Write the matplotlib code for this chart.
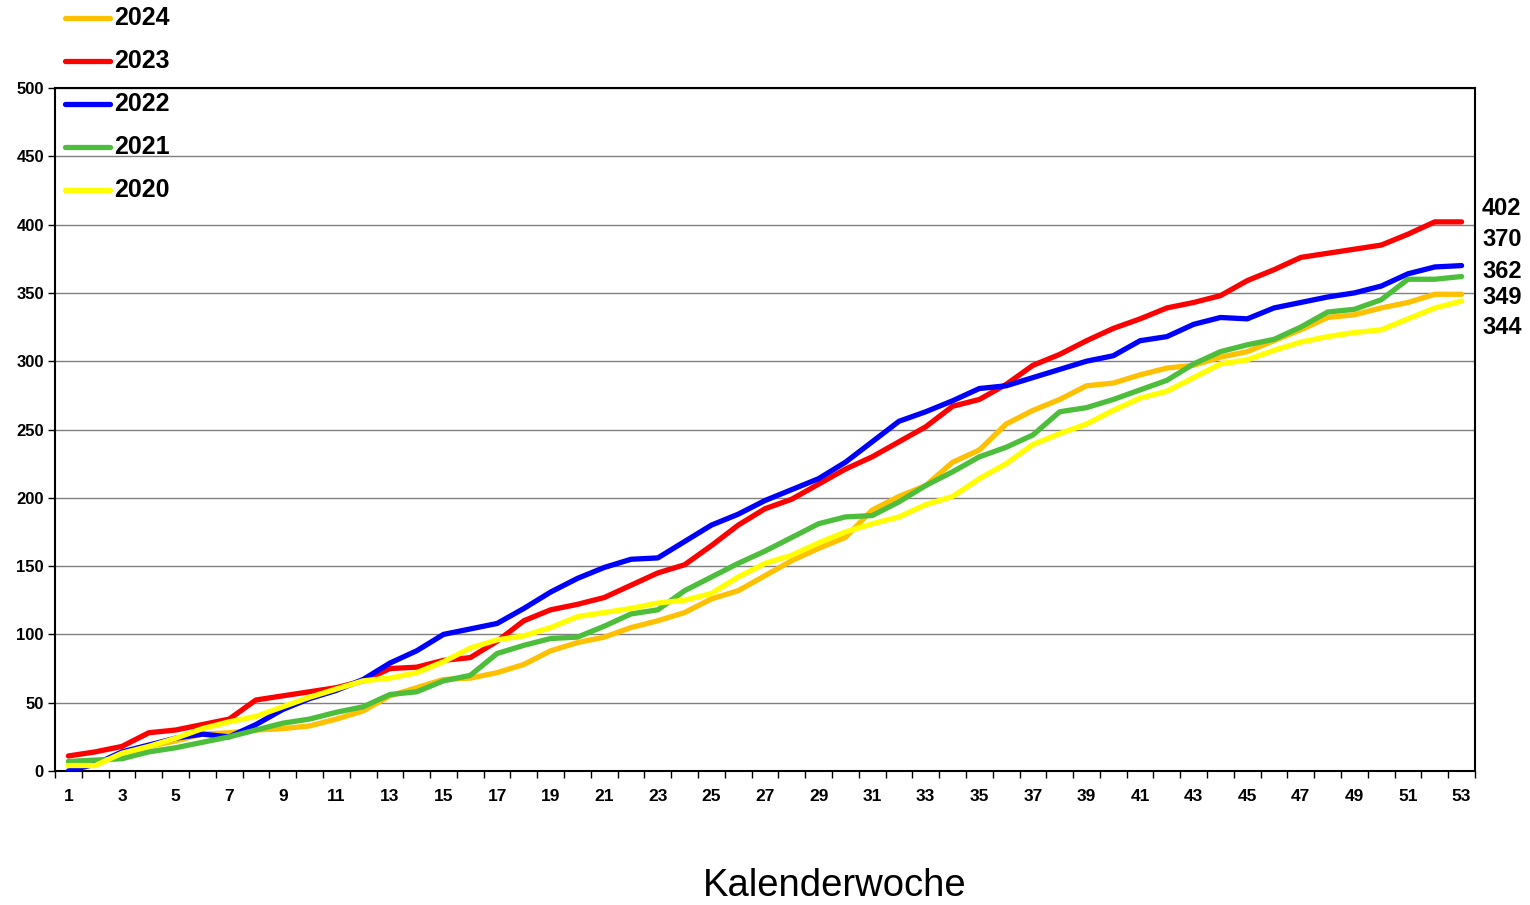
import matplotlib.pyplot as plt
from matplotlib.lines import Line2D

# cumulative counts per calendar week
weeks = list(range(1, 54))

y2024 = [4, 5, 13, 18, 22, 27, 28, 30, 31, 33,
         38, 44, 55, 61, 67, 68, 72, 78, 88, 94,
         98, 105, 110, 116, 126, 132, 143, 154, 163, 171,
         191, 201, 209, 226, 235, 254, 264, 272, 282, 284,
         290, 295, 297, 303, 307, 315, 323, 332, 334, 339,
         343, 349, 349]
y2023 = [11, 14, 18, 28, 30, 34, 38, 52, 55, 58,
         61, 66, 75, 76, 81, 83, 95, 110, 118, 122,
         127, 136, 145, 151, 165, 180, 192, 199, 210, 221,
         230, 241, 252, 267, 272, 283, 297, 305, 315, 324,
         331, 339, 343, 348, 359, 367, 376, 379, 382, 385,
         393, 402, 402]
y2022 = [0, 5, 14, 19, 24, 27, 25, 34, 45, 53,
         59, 67, 79, 88, 100, 104, 108, 119, 131, 141,
         149, 155, 156, 168, 180, 188, 198, 206, 214, 226,
         241, 256, 263, 271, 280, 282, 288, 294, 300, 304,
         315, 318, 327, 332, 331, 339, 343, 347, 350, 355,
         364, 369, 370]
y2021 = [7, 8, 9, 14, 17, 21, 25, 30, 35, 38,
         43, 47, 56, 58, 66, 70, 86, 92, 97, 98,
         106, 115, 118, 132, 142, 152, 161, 171, 181, 186,
         187, 197, 209, 219, 230, 237, 246, 263, 266, 272,
         279, 286, 298, 307, 312, 316, 325, 336, 338, 345,
         360, 360, 362]
y2020 = [4, 4, 13, 18, 24, 31, 36, 40, 47, 54,
         60, 66, 68, 72, 80, 90, 96, 99, 105, 113,
         116, 119, 123, 125, 130, 142, 152, 158, 167, 175,
         181, 186, 195, 201, 214, 225, 239, 247, 254, 264,
         273, 278, 288, 298, 301, 308, 314, 318, 321, 323,
         331, 339, 344]

years = ["2024", "2023", "2022", "2021", "2020"]
series = [y2024, y2023, y2022, y2021, y2020]
colors = ["#FFC000", "#FF0000", "#0000FF", "#4CBE3C", "#FFFF00"]

plt.rcParams["font.family"] = ["Liberation Sans", "DejaVu Sans"]

W, H = 1530, 905
fig = plt.figure(figsize=(W / 100, H / 100), dpi=100)
ax = fig.add_axes([55 / W, 1 - 771 / H, 1420 / W, 683 / H])

for vals, c in zip(series, colors):
    ax.plot(weeks, vals, color=c, lw=3.8, solid_capstyle="round",
            solid_joinstyle="round", zorder=3)

ax.set_xlim(0.5, 53.5)
ax.set_ylim(0, 500)
ax.set_yticks(range(0, 501, 50))
ax.set_xticks(range(1, 54, 2))
ax.set_xticks([w + 0.5 for w in range(0, 54)], minor=True)
ax.tick_params(axis="x", which="major", length=0, pad=13, labelsize=12.5)
ax.tick_params(axis="x", which="minor", length=5, width=1, direction="out")
ax.tick_params(axis="y", length=5, width=1, direction="out", labelsize=12, pad=3)
for lab in ax.get_xticklabels() + ax.get_yticklabels():
    lab.set_fontweight("bold")
ax.grid(axis="y", color="#808080", lw=1, zorder=0)
for sp in ax.spines.values():
    sp.set_color("black")
    sp.set_linewidth(1.5)

# legend drawn by hand, top left
for i, (yr, c) in enumerate(zip(years, colors)):
    yp = 1 - (18 + 43 * i) / H
    fig.add_artist(Line2D([65 / W, 110 / W], [yp, yp], color=c, lw=3.8,
                          solid_capstyle="round", transform=fig.transFigure))
    fig.text(114 / W, yp, yr, fontsize=18, fontweight="bold", va="center")

# final values at the right
label_order = [1, 2, 3, 0, 4]
label_y = [208, 240, 272, 297, 327]
for idx, yp in zip(label_order, label_y):
    fig.text(1482 / W, 1 - yp / H, str(series[idx][-1]), fontsize=17,
             fontweight="bold", va="center")

fig.text(835 / W, 1 - 886 / H, "Kalenderwoche", fontsize=27.5, ha="center", va="center")

fig.savefig("out.png", dpi=100)
